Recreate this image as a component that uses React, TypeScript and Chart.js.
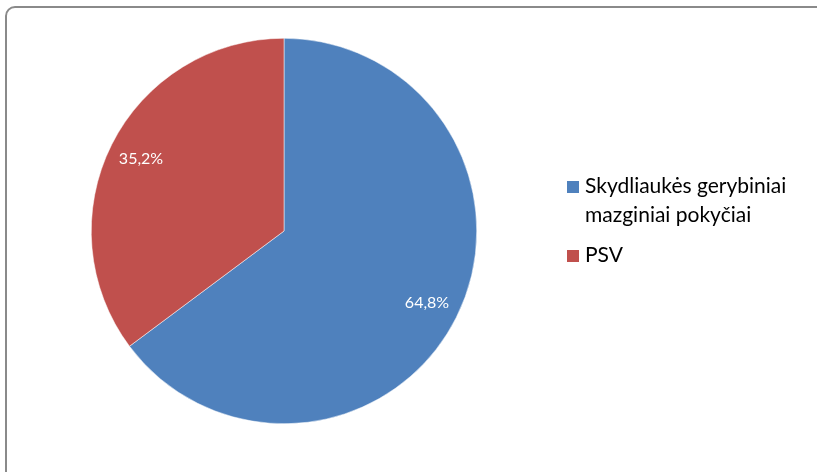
import React, { useEffect, useRef } from "react";
import { Chart, registerables } from "chart.js";

Chart.register(...registerables);

const categories = ["Skydliaukės gerybiniai mazginiai pokyčiai", "PSV"];
const values = [64.8, 35.2];
const colors = ["#4F81BD", "#C0504D"];

const FONT = "Lato, 'Open Sans', sans-serif";

const labelPlugin = {
  id: "sliceLabels",
  afterDatasetsDraw(chart: any) {
    const ctx = chart.ctx;
    const meta = chart.getDatasetMeta(0);
    ctx.save();
    ctx.fillStyle = "#FFFFFF";
    ctx.font = `16px ${FONT}`;
    ctx.textAlign = "center";
    ctx.textBaseline = "middle";
    meta.data.forEach((arc: any, i: number) => {
      const p = arc.getProps(["x", "y", "startAngle", "endAngle", "outerRadius"], true);
      const mid = (p.startAngle + p.endAngle) / 2;
      const r = p.outerRadius * 0.83;
      const x = p.x + Math.cos(mid) * r;
      const y = p.y + Math.sin(mid) * r;
      const txt = values[i].toFixed(1).replace(".", ",") + "%";
      ctx.fillText(txt, x, y);
    });
    ctx.restore();
  },
};

const legendPlugin = {
  id: "customLegend",
  afterDraw(chart: any) {
    const ctx = chart.ctx;
    ctx.save();
    ctx.font = `21px ${FONT}`;
    ctx.textBaseline = "alphabetic";
    ctx.textAlign = "left";
    const boxX = 567;
    const textX = 585;
    const maxW = 225;
    const lineH = 29;
    let baseline = 193;
    categories.forEach((cat, i) => {
      const words = cat.split(" ");
      const lines: string[] = [];
      let cur = "";
      words.forEach((w) => {
        const t = cur ? cur + " " + w : w;
        if (ctx.measureText(t).width > maxW && cur) {
          lines.push(cur);
          cur = w;
        } else cur = t;
      });
      if (cur) lines.push(cur);
      ctx.fillStyle = colors[i];
      ctx.fillRect(boxX, baseline - 12, 12, 12);
      ctx.fillStyle = "#000000";
      lines.forEach((ln, j) => {
        ctx.fillText(ln, textX, baseline + j * lineH);
      });
      baseline += (lines.length - 1) * lineH + 40;
    });
    ctx.restore();
  },
};

export default function App() {
  const ref = useRef<HTMLCanvasElement>(null);
  useEffect(() => {
    if (!ref.current) return;
    const chart = new Chart(ref.current, {
      type: "pie",
      data: {
        labels: categories,
        datasets: [
          {
            data: values,
            backgroundColor: colors,
            borderColor: "#FFFFFF",
            borderWidth: 0.5,
          },
        ],
      },
      options: {
        animation: false,
        responsive: false,
        maintainAspectRatio: false,
        layout: { padding: { left: 91, right: 340, top: 38, bottom: 48 } },
        plugins: {
          legend: { display: false },
          tooltip: { enabled: false },
        },
      },
      plugins: [labelPlugin, legendPlugin],
    });
    return () => chart.destroy();
  }, []);
  return (
    <div style={{ position: "fixed", left: 0, top: 0, width: 817, height: 472, overflow: "hidden", background: "#fff" }}>
      <div
        style={{
          position: "absolute",
          left: 5,
          top: 6,
          width: 830,
          height: 490,
          border: "2px solid #8a8a8a",
          borderRadius: 10,
          boxSizing: "border-box",
        }}
      />
      <canvas ref={ref} width={817} height={472} style={{ position: "absolute", left: 0, top: 0 }} />
    </div>
  );
}
